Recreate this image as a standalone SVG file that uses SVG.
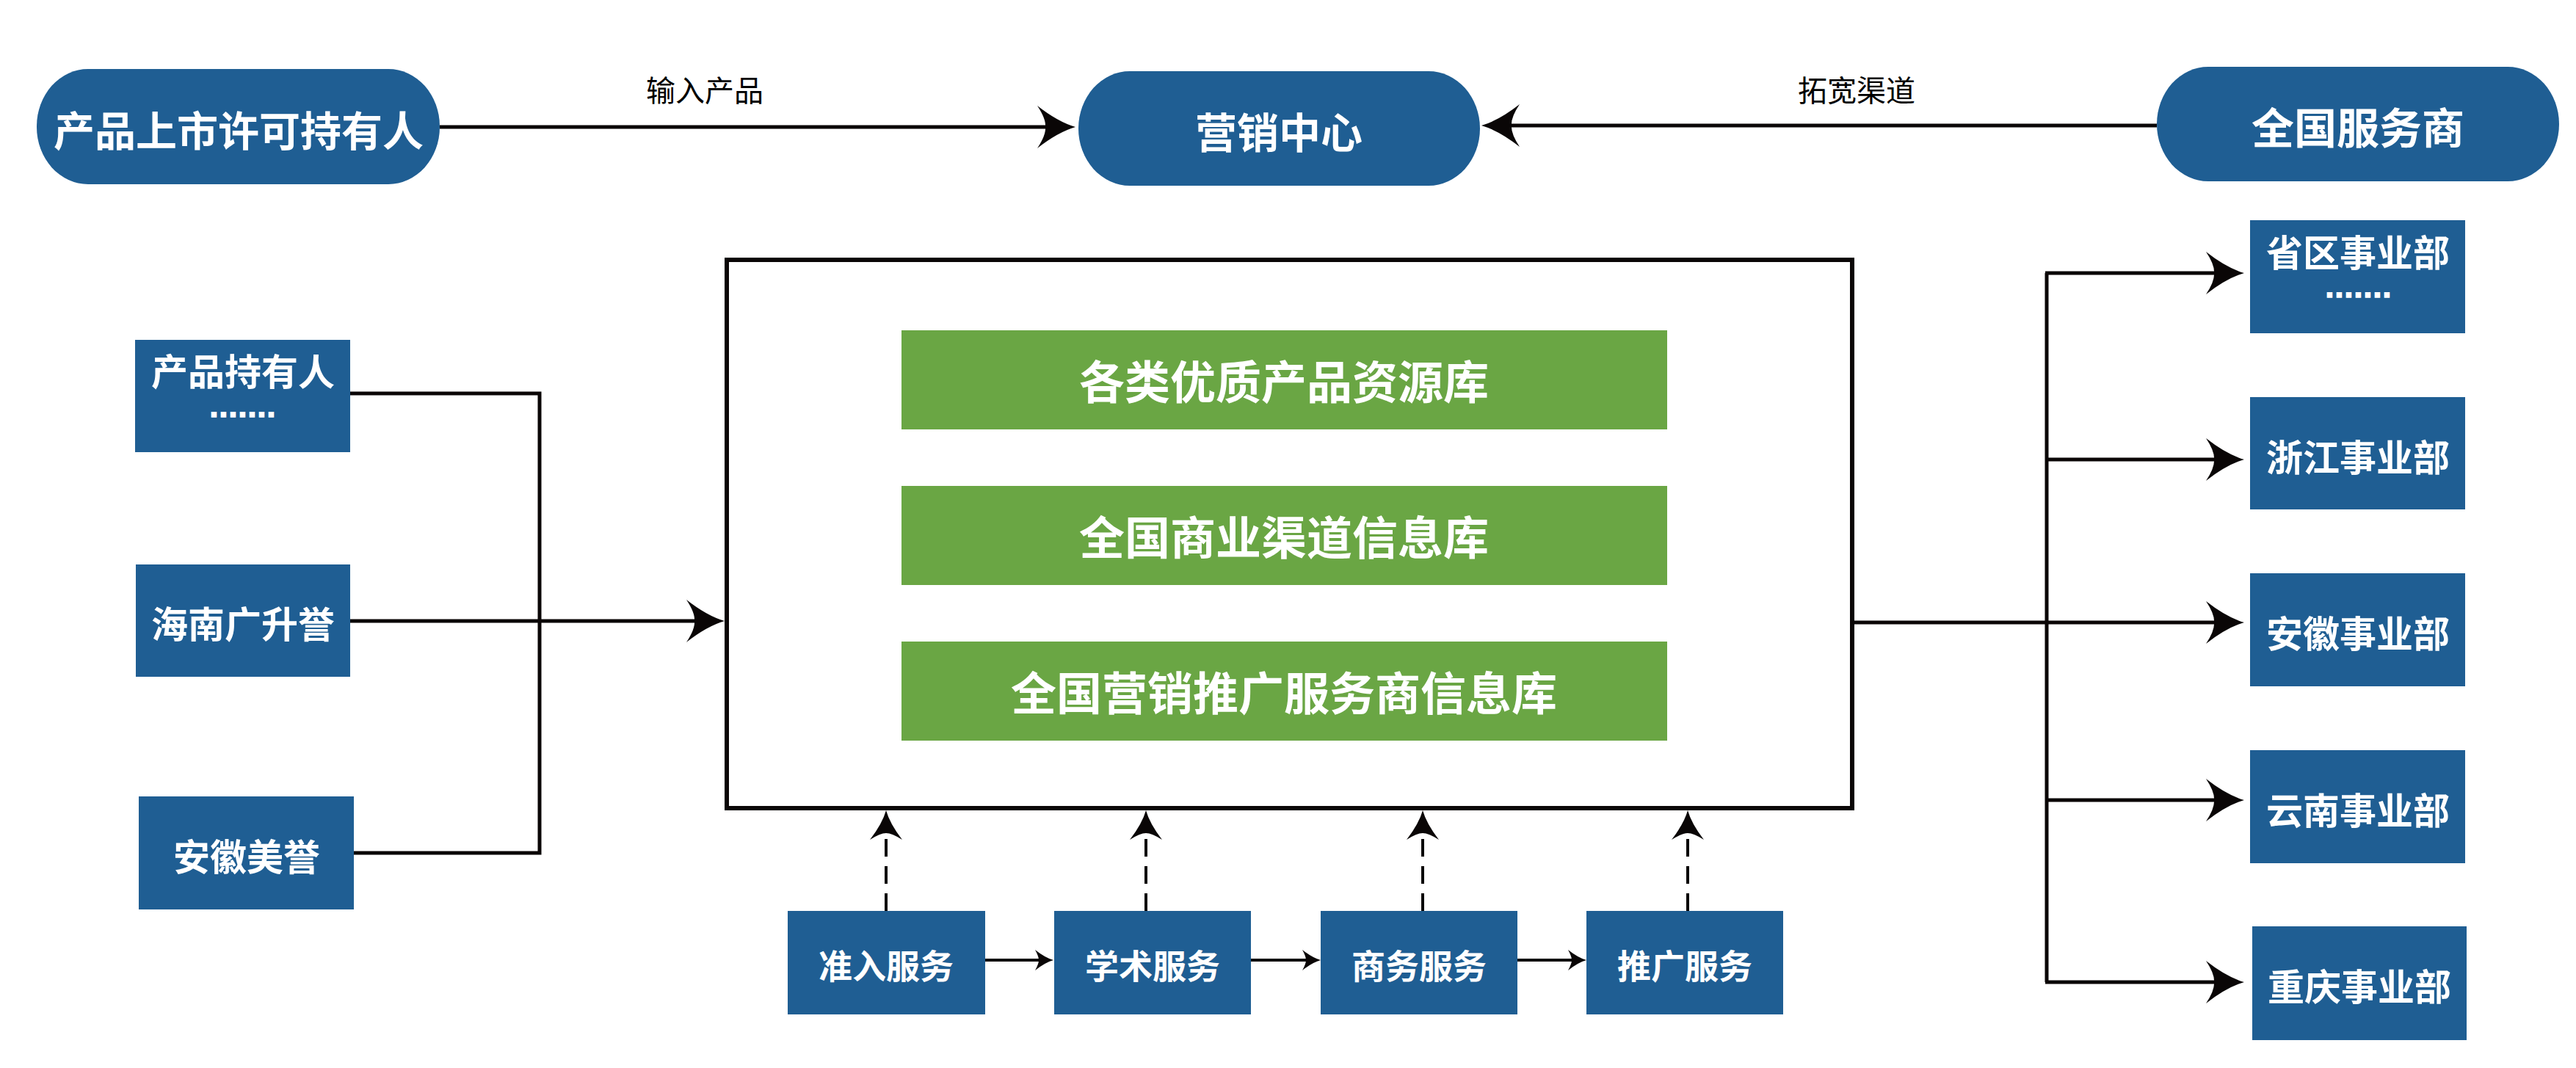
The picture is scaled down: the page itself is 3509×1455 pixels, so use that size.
<svg xmlns="http://www.w3.org/2000/svg" width="3509" height="1455" viewBox="0 0 3509 1455">
<defs>
<style>
.blue{fill:#1f5e93;}
.green{fill:#6aa644;}
.t{font-family:"Noto Sans CJK SC","Noto Sans",sans-serif;font-weight:700;fill:#ffffff;text-anchor:middle;dominant-baseline:central;}
.t2{font-family:"Noto Sans CJK SC","Noto Sans",sans-serif;font-weight:700;fill:#ffffff;text-anchor:middle;}
.lbl{font-family:"Noto Sans CJK SC","Noto Sans",sans-serif;font-weight:400;fill:#000000;text-anchor:middle;dominant-baseline:central;font-size:40px;}
.dots{font-family:"Liberation Sans",sans-serif;font-weight:700;font-size:28px;fill:#ffffff;stroke:#ffffff;stroke-width:3.5;letter-spacing:5.2px;text-anchor:middle;}
.ln{fill:none;stroke:#0a0606;stroke-width:5;}
.dash{fill:none;stroke:#0a0606;stroke-width:4;stroke-dasharray:24 13;}
.thin{fill:none;stroke:#0a0606;stroke-width:4;}
</style>
<marker id="big" markerUnits="userSpaceOnUse" viewBox="0 0 52 58" markerWidth="52" markerHeight="58" refX="37" refY="29" orient="auto">
<path d="M52,29 Q28,22 0,0 Q12,18 11,29 Q12,40 0,58 Q28,36 52,29 Z" fill="#0a0606"/>
</marker>
<marker id="mid" markerUnits="userSpaceOnUse" viewBox="0 0 40 44" markerWidth="40" markerHeight="44" refX="30" refY="22" orient="auto">
<path d="M40,22 Q22,17 0,0 Q9,14 9,22 Q9,30 0,44 Q22,27 40,22 Z" fill="#0a0606"/>
</marker>
<marker id="small" markerUnits="userSpaceOnUse" viewBox="0 0 25 28" markerWidth="25" markerHeight="28" refX="17" refY="14" orient="auto">
<path d="M25,14 Q14,11 0,0 Q5,9 5,14 Q5,19 0,28 Q14,17 25,14 Z" fill="#0a0606"/>
</marker>
</defs>
<rect width="3509" height="1455" fill="#ffffff"/>

<g id="connectors">
<line class="ln" x1="599" y1="173" x2="1450" y2="173" marker-end="url(#big)"/>
<line class="ln" x1="2938" y1="171" x2="2033" y2="171" marker-end="url(#big)"/>
<polyline class="ln" points="477,536 735,536 735,1162 482,1162"/>
<line class="ln" x1="477" y1="846" x2="972" y2="846" marker-end="url(#big)"/>
<line class="ln" x1="2523" y1="848" x2="2788" y2="848"/>
<line class="ln" x1="2788" y1="372" x2="2788" y2="1338"/>
<line class="ln" x1="2786" y1="372" x2="3042" y2="372" marker-end="url(#big)"/>
<line class="ln" x1="2788" y1="626" x2="3042" y2="626" marker-end="url(#big)"/>
<line class="ln" x1="2788" y1="848" x2="3042" y2="848" marker-end="url(#big)"/>
<line class="ln" x1="2788" y1="1090" x2="3042" y2="1090" marker-end="url(#big)"/>
<line class="ln" x1="2786" y1="1338" x2="3042" y2="1338" marker-end="url(#big)"/>
<line class="dash" x1="1207" y1="1241" x2="1207" y2="1114" marker-end="url(#mid)"/>
<line class="dash" x1="1561" y1="1241" x2="1561" y2="1114" marker-end="url(#mid)"/>
<line class="dash" x1="1938" y1="1241" x2="1938" y2="1114" marker-end="url(#mid)"/>
<line class="dash" x1="2299" y1="1241" x2="2299" y2="1114" marker-end="url(#mid)"/>
<line class="thin" x1="1342" y1="1308" x2="1427" y2="1308" marker-end="url(#small)"/>
<line class="thin" x1="1704" y1="1308" x2="1791" y2="1308" marker-end="url(#small)"/>
<line class="thin" x1="2067" y1="1308" x2="2153" y2="1308" marker-end="url(#small)"/>
<text class="lbl" x="960" y="121">输入产品</text>
<text class="lbl" x="2529" y="121">拓宽渠道</text>
</g>

<g id="node-holder">
<rect class="blue" x="50" y="94" width="549" height="157" rx="70" ry="78"/>
<text class="t" x="325" y="174" font-size="56">产品上市许可持有人</text>
</g>
<g id="node-marketing">
<rect class="blue" x="1469" y="97" width="547" height="156" rx="70" ry="78"/>
<text class="t" x="1742" y="177" font-size="57">营销中心</text>
</g>
<g id="node-providers">
<rect class="blue" x="2938" y="91" width="548" height="156" rx="70" ry="78"/>
<text class="t" x="3212" y="171" font-size="58">全国服务商</text>
</g>

<g id="node-database">
<rect x="990" y="354" width="1533" height="747" fill="#ffffff" stroke="#0a0606" stroke-width="6"/>
</g>
<g id="node-db1">
<rect class="green" x="1228" y="450" width="1043" height="135"/>
<text class="t" x="1749" y="517" font-size="62">各类优质产品资源库</text>
</g>
<g id="node-db2">
<rect class="green" x="1228" y="662" width="1043" height="135"/>
<text class="t" x="1749" y="729" font-size="62">全国商业渠道信息库</text>
</g>
<g id="node-db3">
<rect class="green" x="1228" y="874" width="1043" height="135"/>
<text class="t" x="1749" y="941" font-size="62">全国营销推广服务商信息库</text>
</g>

<g id="node-owners">
<rect class="blue" x="184" y="463" width="293" height="153"/>
<text class="t2" x="331" y="525" font-size="50">产品持有人</text>
<text class="dots" x="333" y="567">.......</text>
</g>
<g id="node-hainan">
<rect class="blue" x="185" y="769" width="292" height="153"/>
<text class="t" x="331" y="847" font-size="50">海南广升誉</text>
</g>
<g id="node-anhui-meiyu">
<rect class="blue" x="189" y="1085" width="293" height="154"/>
<text class="t" x="336" y="1164" font-size="50">安徽美誉</text>
</g>

<g id="node-s1">
<rect class="blue" x="1073" y="1241" width="269" height="141"/>
<text class="t" x="1207" y="1313" font-size="46">准入服务</text>
</g>
<g id="node-s2">
<rect class="blue" x="1436" y="1241" width="268" height="141"/>
<text class="t" x="1570" y="1313" font-size="46">学术服务</text>
</g>
<g id="node-s3">
<rect class="blue" x="1799" y="1241" width="268" height="141"/>
<text class="t" x="1933" y="1313" font-size="46">商务服务</text>
</g>
<g id="node-s4">
<rect class="blue" x="2161" y="1241" width="268" height="141"/>
<text class="t" x="2295" y="1313" font-size="46">推广服务</text>
</g>

<g id="node-province">
<rect class="blue" x="3065" y="300" width="293" height="154"/>
<text class="t2" x="3212" y="363" font-size="50">省区事业部</text>
<text class="dots" x="3215" y="404">.......</text>
</g>
<g id="node-zhejiang">
<rect class="blue" x="3065" y="541" width="293" height="153"/>
<text class="t" x="3212" y="620" font-size="50">浙江事业部</text>
</g>
<g id="node-anhui">
<rect class="blue" x="3065" y="781" width="293" height="154"/>
<text class="t" x="3212" y="860" font-size="50">安徽事业部</text>
</g>
<g id="node-yunnan">
<rect class="blue" x="3065" y="1022" width="293" height="154"/>
<text class="t" x="3212" y="1101" font-size="50">云南事业部</text>
</g>
<g id="node-chongqing">
<rect class="blue" x="3068" y="1262" width="292" height="155"/>
<text class="t" x="3214" y="1341" font-size="50">重庆事业部</text>
</g>
</svg>
